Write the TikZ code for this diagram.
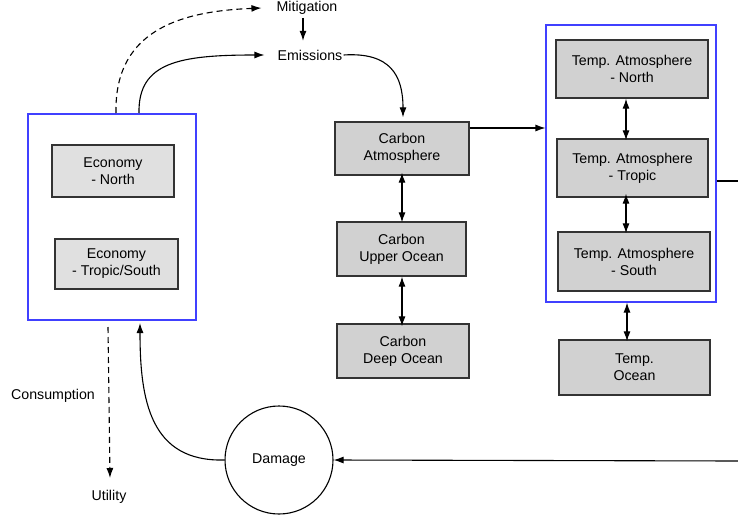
\documentclass[tikz,border=0pt]{standalone}
\usepackage{fontspec}
\setmainfont{Liberation Sans}
\usetikzlibrary{arrows.meta,calc}
\begin{document}
\begin{tikzpicture}[x=1pt,y=-1pt,
  font=\fontsize{14.2}{17}\selectfont,
  gbox/.style={draw=black!80,line width=1.3pt,fill=black!18,align=center,inner sep=0pt},
  lbox/.style={gbox,fill=black!12},
  bluebox/.style={draw=blue!75,line width=1.1pt,inner sep=0pt},
  lbl/.style={inner sep=1pt,align=center},
  arr/.style={line width=1.1pt,-{Latex[length=10pt,width=7pt]}},
  darr/.style={line width=1.1pt,{Latex[length=10pt,width=7pt]}-{Latex[length=10pt,width=7pt]}}
]
\useasboundingbox (0,0) rectangle (738,516);
% left group
\node[bluebox,minimum width=168pt,minimum height=206pt] (lb) at (112,217) {};
\node[lbox,minimum width=122pt,minimum height=52pt] (en) at (113,171) {Economy\\- North};
\node[lbox,minimum width=123pt,minimum height=50pt] (es) at (116.5,264) {Economy\\- Tropic/South};
% carbon
\node[gbox,minimum width=134pt,minimum height=53pt] (ca) at (402,148.5) {Carbon\\Atmosphere};
\node[gbox,minimum width=129pt,minimum height=54pt] (cu) at (401.5,249) {Carbon\\Upper Ocean};
\node[gbox,minimum width=132pt,minimum height=54pt] (cd) at (403,351) {Carbon\\Deep Ocean};
% temperature
\node[bluebox,minimum width=170pt,minimum height=277pt] (rb) at (631,163.5) {};
\node[gbox,minimum width=152pt,minimum height=58pt] (tn) at (632,69) {Temp. Atmosphere\\- North};
\node[gbox,minimum width=151pt,minimum height=58pt] (tt) at (632.5,168) {Temp. Atmosphere\\- Tropic};
\node[gbox,minimum width=152pt,minimum height=59pt] (ts) at (634,261.5) {Temp. Atmosphere\\- South};
\node[gbox,minimum width=151pt,minimum height=55pt] (to) at (634.5,367.5) {Temp.\\Ocean};
% damage
\node[draw,circle,line width=1.1pt,minimum size=108pt,inner sep=0pt] (dm) at (279,460) {Damage};
% labels
\node[lbl] (mit) at (307,8) {Mitigation};
\node[lbl] (emi) at (310,55) {Emissions};
\node[lbl] (con) at (53,396) {Consumption};
\node[lbl] (uti) at (109,497) {Utility};
% helper coordinates
\coordinate (cxc) at (402,0);
\coordinate (cxt) at (626,0);
\coordinate (y128) at (0,128);
\coordinate (y181) at (0,181);
\coordinate (eR) at (738,181);
\coordinate (eD) at (738,461);
% connectors
\draw[arr,dashed,dash pattern=on 6pt off 4pt] (116,113) .. controls (114,25) and (190,11) .. ($(mit.west)+(-14,0)$);
\draw[arr] (139,113) .. controls (138,62) and (180,55) .. ($(emi.west)+(-12,0)$);
\draw[arr] (mit.south) ++(-4,2) -- ++(0,23);
\draw[arr] (emi.east) .. controls (390,52) and (403,75) .. ($(ca.north)+(1,-4)$);
\draw[darr] ([yshift=3pt]ca.south -| cxc) -- ([yshift=-1pt]cu.north -| cxc);
\draw[darr] (cu.south -| cxc) -- ([yshift=-3pt]cd.north -| cxc);
\draw[arr] (ca.east |- y128) -- (rb.west |- y128);
\draw[darr] (tn.south -| cxt) -- ([yshift=-2pt]tt.north -| cxt);
\draw[darr] ([yshift=4pt]tt.south -| cxt) -- ([yshift=-2pt]ts.north -| cxt);
\draw[darr] ([xshift=1pt]rb.south -| cxt) -- ([xshift=1pt,yshift=-2pt]to.north -| cxt);
\draw[line width=1.1pt] (rb.east |- y181) -- (eR);
\draw[arr] (eD) -- (dm.east);
\draw[arr] (dm.west) .. controls (150,462) and (140,400) .. (140,323);
\draw[arr,dashed,dash pattern=on 6pt off 4pt] (108,327) -- (110,478);
\end{tikzpicture}
\end{document}
